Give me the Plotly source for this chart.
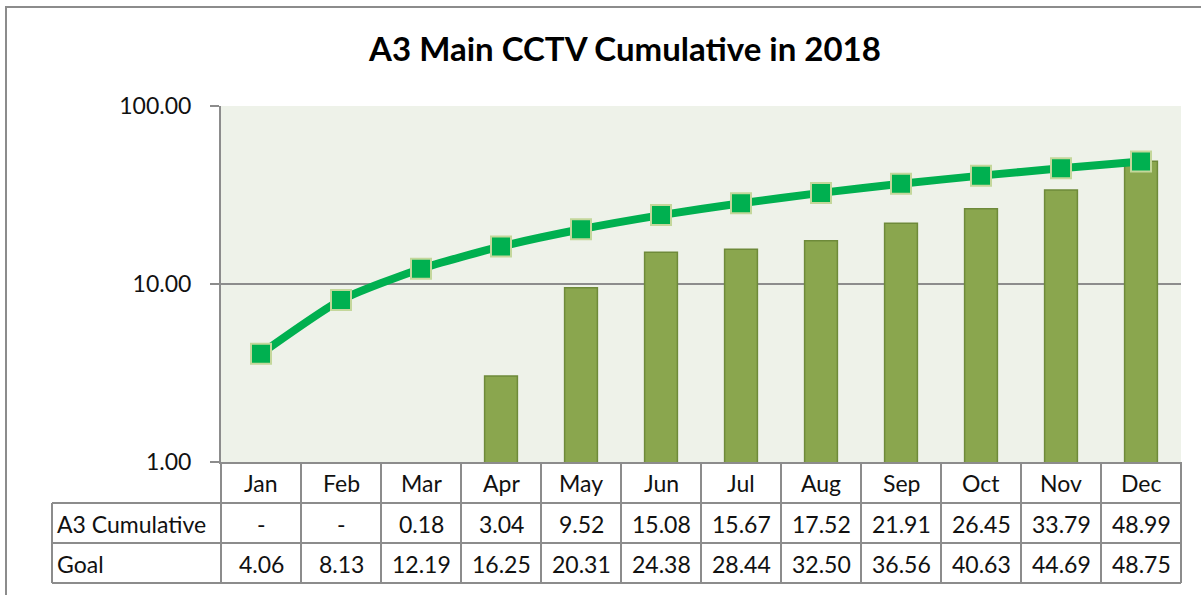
import plotly.graph_objects as go

months = ["Jan", "Feb", "Mar", "Apr", "May", "Jun", "Jul", "Aug", "Sep", "Oct", "Nov", "Dec"]
cumulative = [None, None, 0.18, 3.04, 9.52, 15.08, 15.67, 17.52, 21.91, 26.45, 33.79, 48.99]
goal = [4.06, 8.13, 12.19, 16.25, 20.31, 24.38, 28.44, 32.50, 36.56, 40.63, 44.69, 48.75]
row_labels = ["A3 Cumulative", "Goal"]
title_text = "A3 Main CCTV Cumulative in 2018"

W, H = 1201, 595
# plot area in reference pixels: x 221..1181, y 106..462
PL, PR, PT, PB = 221, 1181, 106, 462
L, R, T, B = PL, W - PR, PT, H - PB
pw, ph = PR - PL, PB - PT

def py(pix):  # reference pixel y -> paper y
    return (PB - pix) / ph

def px(pix):  # reference pixel x -> paper x
    return (pix - PL) / pw

FONT = "Lato"
GRAY = "#8C8C8C"

fig = go.Figure()
fig.add_trace(go.Bar(
    x=months, y=cumulative, name=row_labels[0],
    marker=dict(color="#8AA64E", line=dict(color="#6E8A3A", width=1.5)),
    width=0.41,
))
fig.add_trace(go.Scatter(
    x=months, y=goal, name=row_labels[1], mode="lines+markers",
    line=dict(color="#00B050", width=8, shape="spline", smoothing=0.6),
    marker=dict(symbol="square", size=20, color="#00B050",
                line=dict(color="#C4D79B", width=2)),
))

shapes = []
annotations = []
# outer frame
shapes.append(dict(type="rect", xref="paper", yref="paper",
                   x0=px(6), x1=px(1260), y0=py(7), y1=py(640),
                   line=dict(color=GRAY, width=2), fillcolor="rgba(0,0,0,0)", layer="below"))
rows_y = [462, 503, 543, 583]
n = len(months)
for yy in rows_y[1:]:
    shapes.append(dict(type="line", xref="paper", yref="paper",
                       x0=px(52), x1=1, y0=py(yy), y1=py(yy),
                       line=dict(color=GRAY, width=2)))
for k in range(n + 1):
    shapes.append(dict(type="line", xref="paper", yref="paper",
                       x0=k / n, x1=k / n, y0=py(rows_y[0]), y1=py(rows_y[-1]),
                       line=dict(color=GRAY, width=2)))
shapes.append(dict(type="line", xref="paper", yref="paper",
                   x0=px(52), x1=px(52), y0=py(rows_y[1]), y1=py(rows_y[-1]),
                   line=dict(color=GRAY, width=2)))

tfont = dict(family=FONT, size=23, color="#111111")
for i, m in enumerate(months):
    cx = (i + 0.5) / n
    cells = [m, "-" if cumulative[i] is None else f"{cumulative[i]:.2f}", f"{goal[i]:.2f}"]
    for r, txt in enumerate(cells):
        annotations.append(dict(x=cx, y=py((rows_y[r] + rows_y[r + 1]) / 2 + 1),
                                xref="paper", yref="paper", xanchor="center", yanchor="middle",
                                text=txt, showarrow=False, font=tfont))
for j, lab in enumerate(row_labels):
    annotations.append(dict(x=px(55), y=py((rows_y[j + 1] + rows_y[j + 2]) / 2 + 1),
                            xref="paper", yref="paper", xanchor="left", yanchor="middle",
                            text=lab, showarrow=False, font=tfont))

fig.update_layout(
    width=W, height=H,
    margin=dict(l=L, r=R, t=T, b=B, autoexpand=False),
    paper_bgcolor="white", plot_bgcolor="#EEF2E9",
    showlegend=False,
    title=dict(text=f"<b>{title_text}</b>", x=625 / W, xanchor="center",
               y=1 - 49 / H, yanchor="middle",
               font=dict(family=FONT, size=33, color="black")),
    font=dict(family=FONT),
    shapes=shapes, annotations=annotations,
)
fig.update_xaxes(showticklabels=False, showgrid=False, showline=True,
                 linecolor=GRAY, linewidth=2, ticks="", range=[-0.5, 11.5])
fig.update_yaxes(type="log", range=[0, 2], tickvals=[1, 10, 100],
                 tickformat=".2f", showgrid=True, gridcolor=GRAY, gridwidth=2,
                 showline=True, linecolor=GRAY, linewidth=2,
                 ticks="outside", ticklen=9, tickcolor=GRAY, tickwidth=2,
                 tickfont=dict(family=FONT, size=23, color="#111111"),
                 ticklabelstandoff=14, zeroline=False)
fig.write_html("out.html", config={"displayModeBar": False},
               post_script="document.body.style.margin='0';document.body.style.overflow='hidden';")
